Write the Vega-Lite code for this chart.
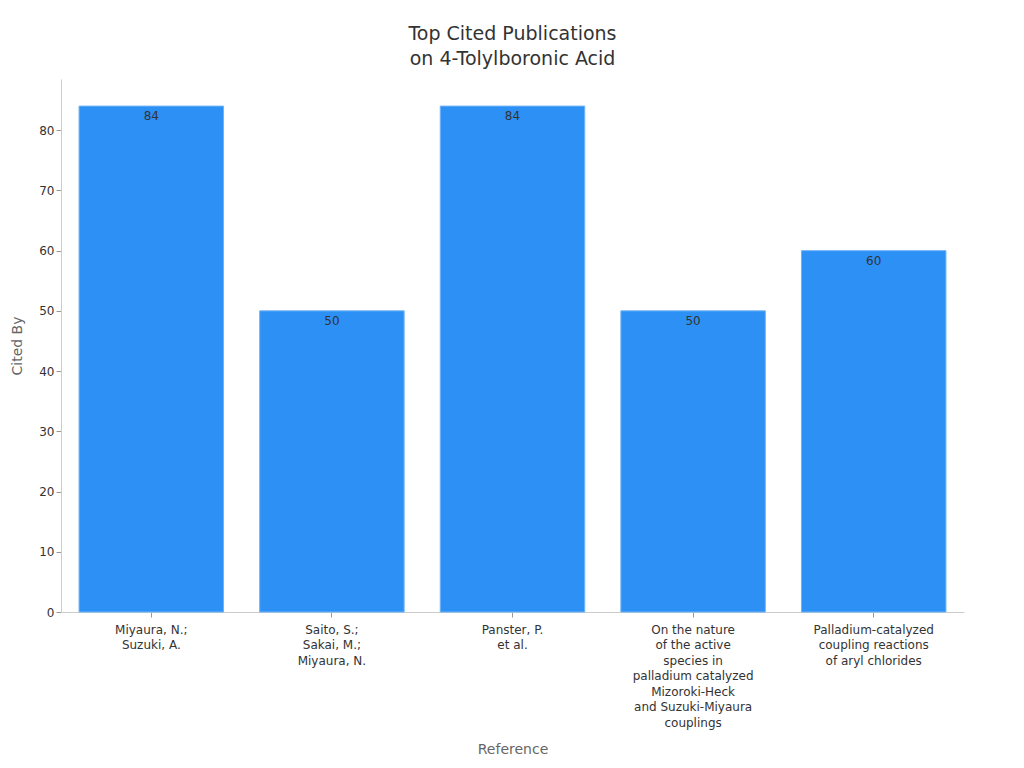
{
  "$schema": "https://vega.github.io/schema/vega-lite/v6.json",
  "width": 1024,
  "height": 768,
  "autosize": {"type": "fit", "contains": "padding"},
  "padding": {"left": 10, "right": 60, "top": 25, "bottom": 12},
  "config": {
    "font": "DejaVu Sans",
    "view": {"stroke": null},
    "axis": {"grid": false, "domainColor": "#cccccc", "tickColor": "#999999", "labelColor": "#333333", "labelFontSize": 12, "titleColor": "#666666", "titleFontSize": 14, "titleFontWeight": "normal"}
  },
  "title": {"text": ["Top Cited Publications", "on 4-Tolylboronic Acid"], "fontSize": 19, "fontWeight": "normal", "color": "#333333", "anchor": "middle", "offset": 10, "lineHeight": 25},
  "data": {"values": [
    {"ref": "Miyaura, N.;|Suzuki, A.", "cited": 84},
    {"ref": "Saito, S.;|Sakai, M.;|Miyaura, N.", "cited": 50},
    {"ref": "Panster, P.|et al.", "cited": 84},
    {"ref": "On the nature|of the active|species in|palladium catalyzed|Mizoroki-Heck|and Suzuki-Miyaura|couplings", "cited": 50},
    {"ref": "Palladium-catalyzed|coupling reactions|of aryl chlorides", "cited": 60}
  ]},
  "encoding": {
    "x": {"field": "ref", "type": "nominal", "sort": null, "title": "Reference",
      "scale": {"paddingInner": 0.2, "paddingOuter": 0.1},
      "axis": {"labelAngle": 0, "labelExpr": "split(datum.label, '|')", "labelLineHeight": 15.5, "labelPadding": 7, "titlePadding": 14}},
    "y": {"field": "cited", "type": "quantitative", "title": "Cited By",
      "scale": {"domain": [0, 88.5], "nice": false},
      "axis": {"values": [0, 10, 20, 30, 40, 50, 60, 70, 80], "titlePadding": 14}}
  },
  "layer": [
    {"mark": {"type": "bar", "color": "#2d90f5", "stroke": "#6fb3f7", "strokeWidth": 1}},
    {"mark": {"type": "text", "baseline": "top", "dy": 5, "fontSize": 12, "color": "#333333"},
     "encoding": {"text": {"field": "cited", "type": "quantitative"}}}
  ]
}
